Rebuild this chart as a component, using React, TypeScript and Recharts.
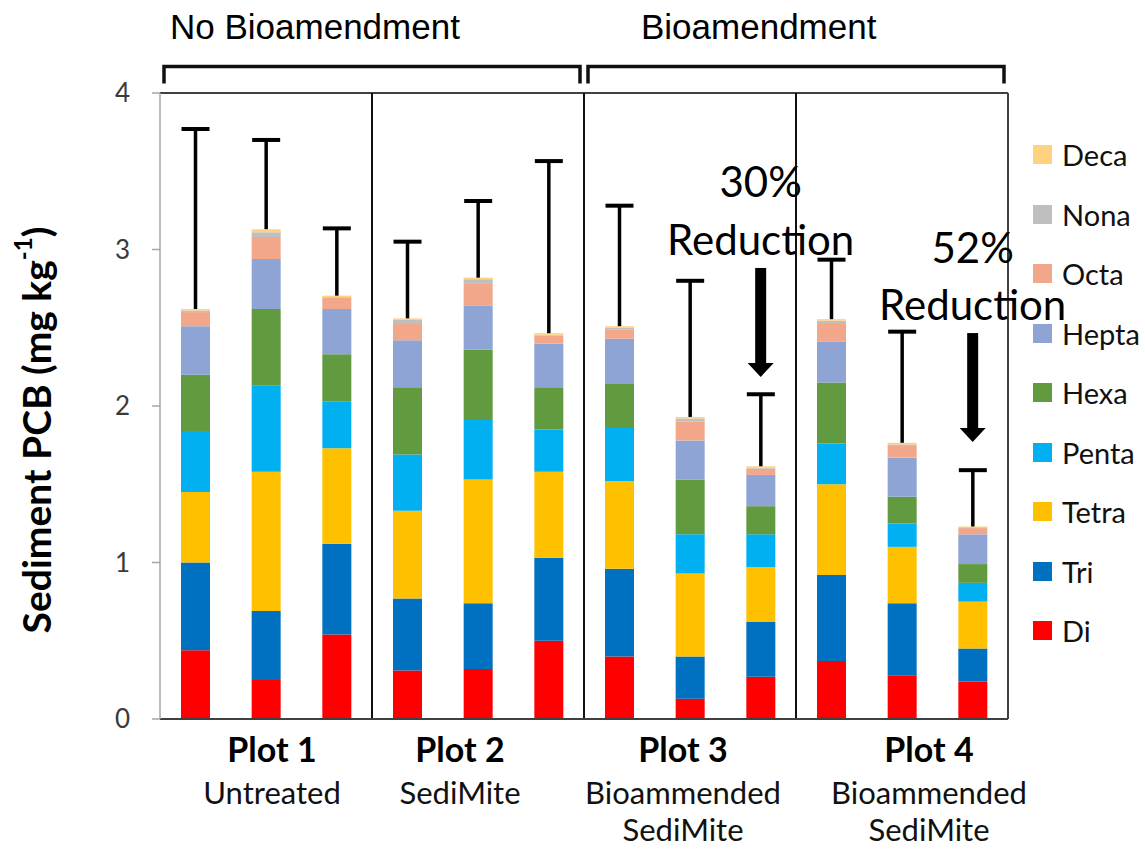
import React from 'react';
import { BarChart, Bar, XAxis, YAxis, ReferenceLine, ReferenceArea, ReferenceDot, Legend } from 'recharts';

// ---------- data ----------
const categories = ['P1-A', 'P1-B', 'P1-C', 'P2-A', 'P2-B', 'P2-C', 'P3-A', 'P3-B', 'P3-C', 'P4-A', 'P4-B', 'P4-C'];
const di = [0.44, 0.25, 0.54, 0.31, 0.32, 0.50, 0.40, 0.13, 0.27, 0.37, 0.28, 0.24];
const tri = [0.56, 0.44, 0.58, 0.46, 0.42, 0.53, 0.56, 0.27, 0.35, 0.55, 0.46, 0.21];
const tetra = [0.45, 0.89, 0.61, 0.56, 0.79, 0.55, 0.56, 0.53, 0.35, 0.58, 0.36, 0.30];
const penta = [0.39, 0.55, 0.30, 0.36, 0.38, 0.27, 0.34, 0.25, 0.21, 0.26, 0.15, 0.12];
const hexa = [0.36, 0.49, 0.30, 0.43, 0.45, 0.27, 0.28, 0.35, 0.18, 0.39, 0.17, 0.12];
const hepta = [0.31, 0.32, 0.29, 0.30, 0.28, 0.28, 0.29, 0.25, 0.20, 0.26, 0.25, 0.19];
const octa = [0.09, 0.14, 0.07, 0.11, 0.14, 0.05, 0.06, 0.12, 0.04, 0.12, 0.08, 0.04];
const nona = [0.01, 0.03, 0.005, 0.02, 0.03, 0.005, 0.01, 0.02, 0.005, 0.015, 0.005, 0.005];
const deca = [0.01, 0.02, 0.01, 0.01, 0.01, 0.01, 0.01, 0.01, 0.01, 0.01, 0.01, 0.005];
const errorSD = [1.15, 0.57, 0.43, 0.49, 0.49, 1.10, 0.77, 0.87, 0.46, 0.38, 0.71, 0.36];

const seriesNames = ['Di', 'Tri', 'Tetra', 'Penta', 'Hexa', 'Hepta', 'Octa', 'Nona', 'Deca'];
const seriesValues = [di, tri, tetra, penta, hexa, hepta, octa, nona, deca];
const seriesColors = ['#FF0000', '#0070C0', '#FFC000', '#00B0F0', '#629A3F', '#8EA4D4', '#F2A68A', '#BFBFBF', '#FFD27F'];

const yTicks = [0, 1, 2, 3, 4];
const groupTitles = ['Plot 1', 'Plot 2', 'Plot 3', 'Plot 4'];
const groupSubtitles = [['Untreated'], ['SediMite'], ['Bioammended', 'SediMite'], ['Bioammended', 'SediMite']];
const bracketTitles = ['No Bioamendment', 'Bioamendment'];
const bracketSpans = [['P1-A', 'P2-C'], ['P3-A', 'P4-C']];
const separatorCats = ['P2-A', 'P3-A', 'P4-A'];

const annotCats = ['P3-C', 'P4-C'];
const annotPct = ['30%', '52%'];
const annotPctY = [3.335, 2.914];
const annotTextY = [2.965, 2.55];
const annotArrowFrom = [2.882, 2.466];
const annotArrowTo = [2.185, 1.77];

// ---------- style constants ----------
const FONT = 'Lato, "Open Sans", sans-serif';
const groupLabelDx = [6, -18, -7, 27];
const bracketTitleDx = [10, 57];

const data = categories.map((c, i) => {
  const row: any = { cat: c, err: errorSD[i] };
  seriesNames.forEach((n, k) => { row[n] = seriesValues[k][i]; });
  return row;
});

const ErrorShape = (props: any) => {
  const { x, y, width, height } = props;
  const cx = x + width / 2;
  return (
    <g>
      <line x1={cx} x2={cx} y1={y + height} y2={y} stroke="#000" strokeWidth={3.5} />
      <line x1={cx - 14} x2={cx + 14} y1={y} y2={y} stroke="#000" strokeWidth={4} />
    </g>
  );
};

const XTick = (props: any) => {
  const { x, y, payload } = props;
  const idx = categories.indexOf(payload.value);
  if (idx % 3 !== 1) return <g />;
  const g = (idx - 1) / 3;
  const cx = x + groupLabelDx[g];
  return (
    <g>
      <text x={cx} y={y + 43} textAnchor="middle" fontFamily={FONT} fontWeight={700} fontSize={34} fill="#000">
        {groupTitles[g]}
      </text>
      {groupSubtitles[g].map((s, k) => (
        <text key={k} x={cx} y={y + 85 + k * 37} textAnchor="middle" fontFamily={FONT} fontSize={31} fill="#111">
          {s}
        </text>
      ))}
    </g>
  );
};

const YLabel = (props: any) => {
  const vb = props.viewBox || { x: 100, y: 93, width: 60, height: 626 };
  const cx = vb.x - 64;
  const cy = vb.y + vb.height / 2 + 24;
  return (
    <text
      transform={`translate(${cx},${cy}) rotate(-90)`}
      textAnchor="middle"
      dominantBaseline="central"
      fontFamily={FONT}
      fontWeight={700}
      fontSize={39}
      fill="#000"
    >
      Sediment PCB (mg kg
      <tspan fontSize={24} dy={-14}>-1</tspan>
      <tspan dy={14}>)</tspan>
    </text>
  );
};

const renderLegend = () => {
  const order = seriesNames.map((n, k) => ({ name: n, color: seriesColors[k] })).reverse();
  return (
    <div style={{ fontFamily: FONT }}>
      {order.map((it) => (
        <div key={it.name} style={{ height: 59.5, display: 'flex', alignItems: 'center' }}>
          <span style={{ width: 19, height: 19, background: it.color, display: 'inline-block', marginRight: 10 }} />
          <span style={{ fontSize: 29, color: '#111', lineHeight: 1 }}>{it.name}</span>
        </div>
      ))}
    </div>
  );
};

const makeBracketShape = (k: number) => (props: any) => {
  const { x, y, width, height } = props;
  const l = x + 4;
  const r = x + width - 4;
  return (
    <g>
      <path
        d={`M${l},${y + height} L${l},${y} L${r},${y} L${r},${y + height}`}
        fill="none"
        stroke="#111"
        strokeWidth={3.5}
      />
      <text x={x + bracketTitleDx[k]} y={y - 27} fontFamily='"Liberation Sans", Arial, sans-serif' fontSize={35} fill="#000">
        {bracketTitles[k]}
      </text>
    </g>
  );
};

const makeTextShape = (txt: string) => (p: any) => (
  <text x={p.cx} y={p.cy} textAnchor="middle" fontFamily={FONT} fontSize={42} fill="#000">
    {txt}
  </text>
);

const ArrowShape = (p: any) => {
  const cx = p.x1;
  const top = Math.min(p.y1, p.y2);
  const tip = Math.max(p.y1, p.y2);
  const head = 14;
  return (
    <g>
      <rect x={cx - 5.5} y={top} width={11} height={tip - head - top + 1} fill="#000" />
      <polygon points={`${cx - 13},${tip - head} ${cx + 13},${tip - head} ${cx},${tip}`} fill="#000" />
    </g>
  );
};

export default function App() {
  return (
    <div style={{ position: 'absolute', left: 0, top: 0, width: 1145, height: 849, background: '#fff' }}>
      <BarChart
        width={1145}
        height={849}
        data={data}
        margin={{ top: 93, right: 137, left: 100, bottom: 20 }}
        barSize={29}
      >
        <XAxis
          dataKey="cat"
          interval={0}
          height={110}
          tickLine={false}
          tickSize={0}
          tickMargin={0}
          axisLine={{ stroke: '#404040', strokeWidth: 2 }}
          tick={<XTick />}
        />
        <YAxis
          domain={[0, 4]}
          ticks={yTicks}
          width={60}
          tickSize={8}
          tickMargin={22}
          axisLine={{ stroke: '#A6A6A6', strokeWidth: 1.5 }}
          tickLine={{ stroke: '#A6A6A6', strokeWidth: 1.5 }}
          tick={{ fontSize: 26, fill: '#3a3a3a', fontFamily: FONT }}
          label={YLabel}
        />
        <Legend
          layout="vertical"
          align="center"
          verticalAlign="middle"
          content={renderLegend}
          wrapperStyle={{ left: 1033, top: 125, width: 112, margin: 0 }}
        />
        {seriesNames.map((n, k) => (
          <Bar key={n} dataKey={n} stackId="s" fill={seriesColors[k]} isAnimationActive={false} />
        ))}
        <Bar dataKey="err" stackId="s" legendType="none" isAnimationActive={false} shape={ErrorShape} />

        <ReferenceLine y={4} stroke="#404040" strokeWidth={2} />
        <ReferenceLine x={categories[categories.length - 1]} position="end" stroke="#404040" strokeWidth={2} />
        {separatorCats.map((c) => (
          <ReferenceLine key={c} x={c} position="start" stroke="#111" strokeWidth={2} />
        ))}

        {bracketSpans.map((s, k) => (
          <ReferenceArea
            key={'br' + k}
            x1={s[0]}
            x2={s[1]}
            y1={4.06}
            y2={4.17}
            ifOverflow="visible"
            shape={makeBracketShape(k)}
          />
        ))}

        {annotCats.map((c, k) => (
          <ReferenceDot key={'pct' + k} x={c} y={annotPctY[k]} ifOverflow="visible" shape={makeTextShape(annotPct[k])} />
        ))}
        {annotCats.map((c, k) => (
          <ReferenceDot key={'red' + k} x={c} y={annotTextY[k]} ifOverflow="visible" shape={makeTextShape('Reduction')} />
        ))}
        {annotCats.map((c, k) => (
          <ReferenceLine
            key={'arr' + k}
            segment={[{ x: c, y: annotArrowFrom[k] }, { x: c, y: annotArrowTo[k] }]}
            ifOverflow="visible"
            shape={ArrowShape}
          />
        ))}
      </BarChart>
    </div>
  );
}
